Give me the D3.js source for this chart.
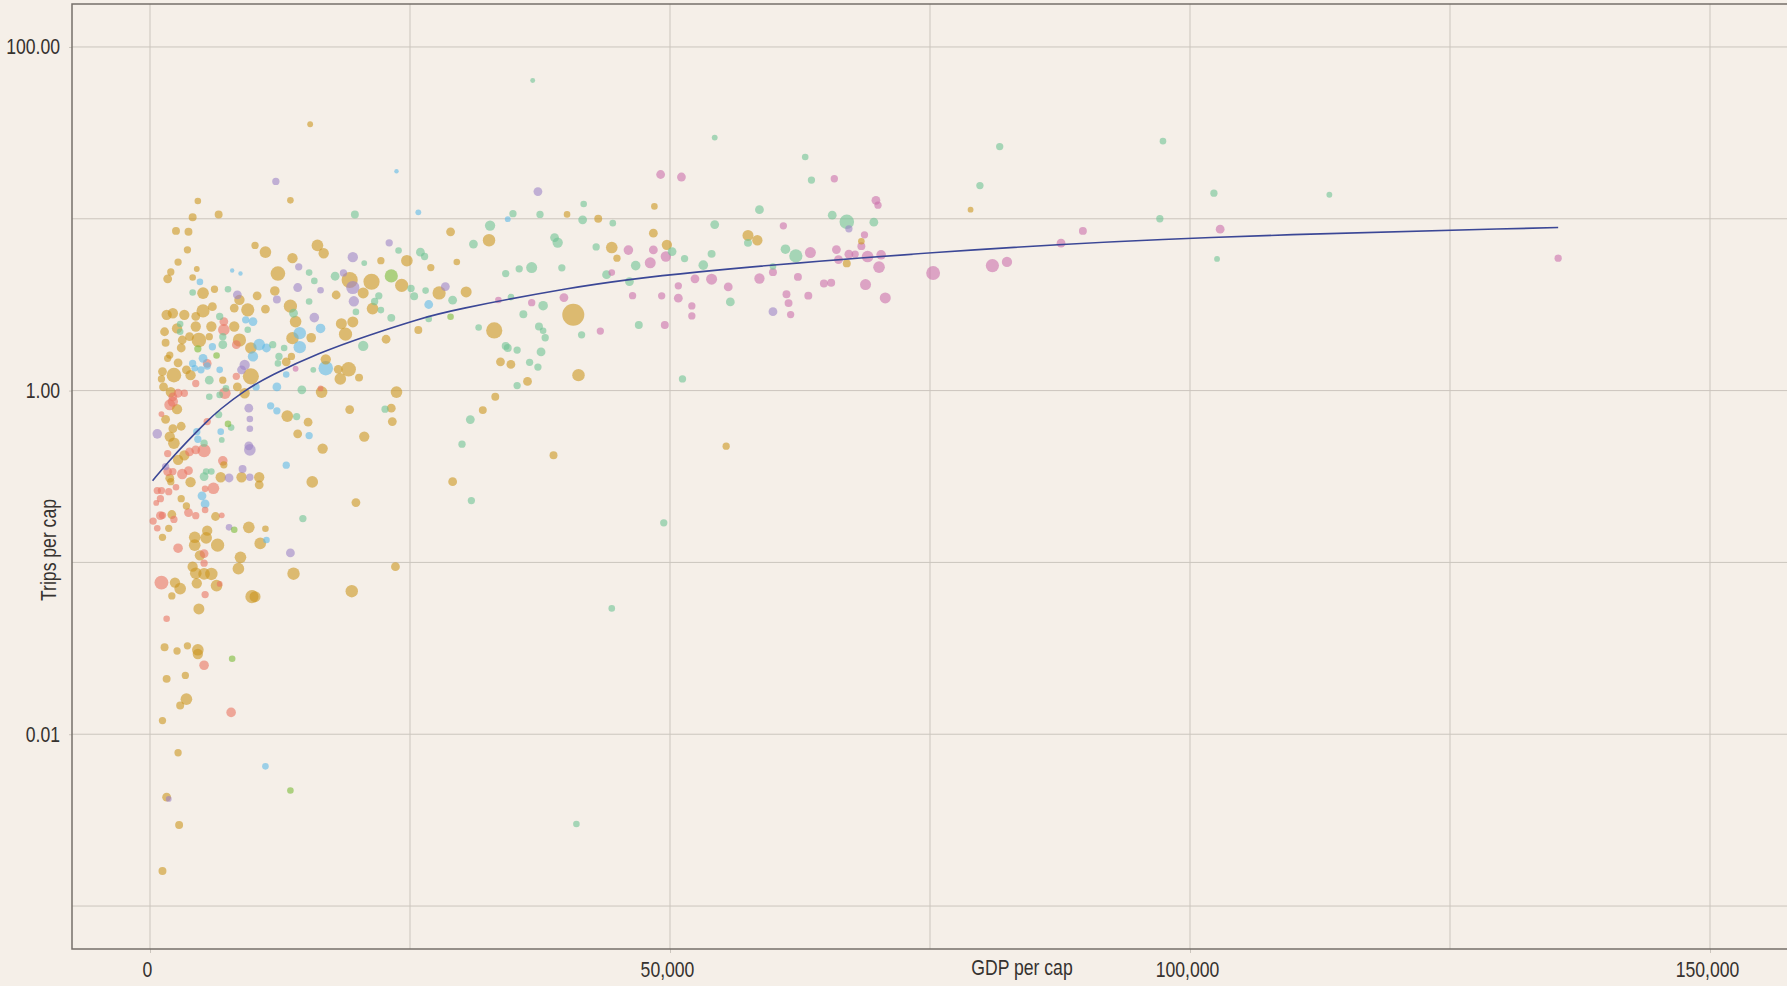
<!DOCTYPE html>
<html>
<head>
<meta charset="utf-8">
<script src="https://d3js.org/d3.v7.min.js"></script>
<style>
body { margin:0; background:#f5efe8; overflow:hidden; }
text { font-family:"Liberation Sans",Arial,sans-serif; fill:#36322f; }
</style>
</head>
<body>
<svg id="svg"></svg>
<script>
// each point: [gdp per cap, trips per cap, size]
var goldPts = [[15400,35.5,7],[13500,12.8,9],[4600,12.7,9],[4100,10.2,13],[6600,10.6,13],[40100,10.6,9],[2500,8.5,13],[3700,8.4,13],[3600,6.6,11],[2700,5.6,11],[2000,4.9,11],[1700,4.47,16],[4500,5.1,7],[4100,4.55,9],[10100,7.0,11],[11100,6.4,28],[16100,7.0,28],[16700,6.3,22],[13700,5.9,22],[12300,4.8,44],[22200,5.7,11],[24700,5.7,28],[19200,4.4,54],[21300,4.3,54],[24200,4.1,36],[27000,5.2,11],[28900,8.4,16],[29500,5.6,9],[32600,7.5,32],[17900,3.6,16],[12000,3.8,19],[13500,3.1,36],[20500,3.7,25],[21400,3.0,28],[27800,3.7,36],[30400,3.75,25],[33100,2.24,54],[33700,1.47,16],[34700,1.42,16],[36300,1.13,16],[33200,0.92,13],[40700,2.76,100],[18400,2.45,25],[19500,2.51,25],[18800,2.13,36],[15500,2.03,19],[13700,2.02,32],[14000,2.52,28],[22700,1.99,16],[25800,2.25,13],[16900,1.52,22],[19100,1.33,44],[18300,1.17,28],[18100,1.33,16],[20100,1.19,13],[16500,0.98,28],[23700,0.98,28],
[48500,11.8,9],[48400,8.25,16],[49700,7.05,22],[57500,8.0,25],[58400,7.5,22],[68400,7.4,9],[67000,5.5,13],[44400,6.8,28],[44900,5.9,11],[43100,10.0,13],[41200,1.23,32],[38800,0.42,13],[32000,0.77,13],[29100,0.295,16],[55400,0.475,11],[78900,11.3,7],
[13200,0.71,28],[15200,0.655,16],[14200,0.56,16],[16600,0.46,22],[19200,0.775,16],[23200,0.79,16],[23300,0.66,16],[20600,0.54,22],[15600,0.294,28],[19800,0.223,16],[10500,0.313,22],[10500,0.283,16],[8800,0.313,22],[6800,0.313,22],[3900,0.293,22],[7100,0.37,11],[2200,0.60,16],[1900,0.54,22],[2300,0.494,28],[2700,0.395,22],[3300,0.42,22],[1900,0.309,16],[2000,0.295,11],[3000,0.235,11],[3500,0.213,11],[6300,0.185,16],[2100,0.19,16],[1800,0.158,11],[1200,0.14,11],[9500,0.16,28],[11100,0.157,9],[10600,0.129,28],[5500,0.153,22],[4300,0.14,28],[5400,0.139,28],[6500,0.126,36],[4300,0.126,28],[4800,0.11,22],[8700,0.107,28],[8500,0.092,28],[13800,0.086,32],[4100,0.0945,22],[4400,0.0865,28],[5200,0.0857,28],[5900,0.0857,32],[4500,0.0756,22],[6400,0.0733,28],[2400,0.0763,22],[2900,0.0704,28],[2100,0.0638,11],[4700,0.0536,25],[9800,0.0632,36],[10100,0.0632,25],[19400,0.068,32],[23600,0.0945,16],[1400,0.0321,13],[2600,0.0305,11],[3600,0.0327,11],[4600,0.031,28],[4600,0.0293,22],[1600,0.021,13],[3400,0.022,11],[3500,0.016,28],[2900,0.0147,13],[1200,0.012,11],[2700,0.0078,11],[1600,0.0043,16],[2800,0.00296,13],[1200,0.0016,13],
[1600,2.76,22],[2200,2.82,22],[3300,2.76,22],[3100,1.97,16],[3000,1.77,16],[1900,1.61,11],[1700,1.54,11],[1200,1.29,16],[2300,1.23,44],[1100,1.17,11],[3500,1.32,16],[3900,1.23,22],[7000,1.15,11],[5100,3.69,28],[5100,2.91,36],[6200,3.89,11],[6000,3.08,16],[4400,2.70,16],[4400,2.36,22],[4700,1.97,44],[3800,2.06,16],[5900,2.36,22],[8100,2.36,22],[8600,3.37,22],[8100,3.02,16],[9400,2.95,36],[10300,3.56,16],[11100,2.98,16],[8600,1.97,36],[5700,2.06,11],[9700,1.77,28],[9700,1.21,54],[8400,1.05,16],[9100,0.965,22],[13100,1.47,16],[13600,1.58,11],
[1400,2.2,16],[2600,2.3,22],[1500,1.9,13],[2700,1.45,16],[1300,1.05,16],[2000,0.98,22],[2600,0.78,22],[1500,0.68,16],[3000,0.62,16]];

var salmonPts = [[16400,1.03,7],[7100,2.52,16],[7100,2.26,28],[8300,1.85,16],[5500,1.44,16],[4400,1.10,11],[8300,1.21,11],[7200,0.965,28],[2700,0.965,16],[3300,0.965,11],[2200,0.92,16],[2200,0.863,22],[1900,0.826,25],
[6100,0.27,28],[3100,0.327,22],[3700,0.342,16],[7000,0.39,19],[5200,0.447,36],[4400,0.452,16],[3800,0.44,16],[1100,0.73,7],[5500,0.66,11],[1700,0.43,11],[1700,0.338,16],[2200,0.338,11],[2500,0.274,9],[700,0.262,11],[1100,0.262,11],[1800,0.258,11],[1000,0.235,11],[600,0.222,7],[3700,0.195,16],[4400,0.187,11],[5300,0.202,9],[5300,0.268,9],[6900,0.188,7],[1000,0.187,16],[1200,0.188,11],[2300,0.178,11],[300,0.174,11],[700,0.158,9],[2700,0.121,19],[5200,0.1125,16],[5200,0.099,11],[6700,0.075,7],[1100,0.0763,40],[5300,0.065,11],[1600,0.047,9],[5200,0.0252,19],[7800,0.0134,19]];

var bluePts = [[23700,18.9,4],[25800,10.9,7],[34400,9.95,7],[4800,4.29,9],[7900,5.0,4],[8700,4.8,4],[26800,3.17,16],[16400,2.30,19],[14400,2.16,32],[14400,1.79,32],[16900,1.35,44],[13100,1.24,9],[12200,1.05,16],[4100,1.44,11],[5100,1.54,16],[4900,1.32,11],[6700,1.32,9],[6000,1.80,11],[9200,2.58,11],[9900,2.52,16],[10500,1.85,28],[11200,1.77,16],[9900,1.58,22],[10200,1.05,11],[11600,0.815,11],[12200,0.762,11],[15300,0.547,11],[6800,0.577,9],[4500,0.577,11],[4600,0.521,11],[13100,0.368,11],[5000,0.244,16],[5300,0.219,16],[11200,0.135,9],[11100,0.0065,9],[5500,1.39,11],[4300,1.35,9]];

var purplePts = [[12100,16.5,11],[37300,14.4,16],[14300,5.25,11],[19500,5.98,22],[23000,7.24,11],[18600,4.84,11],[19500,3.98,36],[14200,3.98,16],[16400,3.84,9],[12200,3.39,13],[19600,3.31,22],[28400,4.03,16],[15800,2.66,19],[8400,3.61,16],[9100,1.41,22],[8800,1.32,16],[9500,0.79,16],[9600,0.684,9],[9600,0.60,9],[9600,0.452,28],[9500,0.477,16],[8900,0.35,13],[9600,0.313,11],[7600,0.31,16],[700,0.56,19],[1500,0.361,11],[7600,0.16,9],[13500,0.1136,16],[1800,0.0042,7],[59900,2.88,16],[67200,8.74,11]];

var greenPts = [[36800,63.8,5],[19700,10.6,13],[34900,10.7,11],[37500,10.6,11],[15300,4.86,9],[15800,4.35,9],[20600,5.52,7],[23900,6.53,9],[17800,4.63,16],[26000,6.39,16],[26400,6.03,11],[31100,7.12,16],[32700,9.13,22],[38900,7.77,16],[39200,7.27,22],[34200,4.8,11],[35500,5.11,11],[36700,5.2,25],[39600,5.18,11],[15300,3.30,9],[21600,3.30,11],[22000,3.56,11],[22200,2.94,9],[19800,2.87,9],[23200,2.65,13],[29100,3.36,16],[26500,3.82,9],[25100,3.93,11],[25400,3.54,13],[26800,2.61,9],[34700,3.50,9],[37800,3.12,19],[35900,2.78,13],[31600,2.33,9],[37400,2.36,13],[37800,2.23,9],[38000,2.03,11],[34200,1.82,13],[34400,1.77,13],[35300,1.72,11],[37600,1.68,16],[36500,1.46,11],[37300,1.37,11],[35300,1.07,11],[13800,2.82,16],[20500,1.82,22],[15700,1.32,7],[14600,1.01,16],[12400,1.58,11],[12300,1.44,9],[12900,1.77,9],[11800,1.85,11],[2900,2.44,9],[2900,2.20,9],[4100,3.72,9],[6700,2.70,11],[7500,3.89,9],[9400,2.26,9],[7000,2.06,11],[7000,1.85,16],[5700,1.15,16],[7300,1.03,9],[6700,0.944,9],[5700,0.92,9],[14100,0.706,11],[6600,0.725,11],[7800,0.609,9],[6900,0.516,7],[5200,0.494,11],[5900,0.338,9],[5400,0.338,9],[5200,0.316,16],[14700,0.18,11],[22600,0.78,11],[30800,0.678,16],[30000,0.488,11],[30900,0.229,11],[49400,0.17,11],[51200,1.17,11],[44400,0.054,9],[41000,0.003,9],
[54300,29.7,7],[63000,22.9,9],[63600,16.8,11],[58600,11.3,16],[65600,10.5,16],[67000,9.6,44],[69600,9.55,16],[54300,9.25,16],[50200,6.44,16],[46700,5.34,19],[51400,5.87,11],[54000,6.25,13],[53200,5.37,19],[57500,7.24,13],[61100,6.65,19],[62100,6.08,36],[59900,5.27,9],[55800,3.28,16],[47000,2.41,13],[46100,4.31,16],[43900,4.73,16],[42900,6.86,11],[44500,9.43,9],[41600,9.86,16],[41700,12.2,9],[41500,2.11,11],[81700,26.3,11],[97400,28.3,9],[79800,15.6,11],[102300,14.1,11],[113400,13.8,7],[97100,10.0,11],[102600,5.84,7]];

var limePts = [[23200,4.65,36],[28900,2.69,9],[7500,0.64,9],[8100,0.155,9],[7900,0.0275,9],[13500,0.0047,9],[4600,1.75,11],[6400,1.6,9]];

var pinkPts = [[33500,3.37,9],[36700,3.25,11],[39800,3.48,16],[14000,1.34,7],[43300,2.22,11],[49100,18.1,16],[51100,17.5,16],[65800,17.1,11],[69800,12.8,16],[70000,12.0,11],[60900,9.1,11],[49600,6.03,22],[48400,6.59,16],[48100,5.54,25],[46000,6.57,19],[63500,6.36,25],[66000,6.62,16],[66200,5.79,16],[67200,6.22,16],[67800,6.22,11],[68700,8.06,11],[68400,6.93,13],[69000,6.03,28],[70300,6.17,19],[70100,5.23,28],[75300,4.83,40],[59900,4.89,13],[58600,4.49,22],[62300,4.59,13],[64800,4.20,13],[65500,4.24,13],[68800,4.14,25],[70700,3.46,25],[63300,3.57,13],[61200,3.64,13],[61400,3.23,13],[61600,2.77,11],[55600,4.01,16],[54000,4.45,25],[52400,4.47,16],[50800,4.07,11],[50800,3.45,16],[52100,3.11,11],[52100,2.72,11],[49200,3.56,11],[49500,2.41,13],[46400,3.57,11],[44400,4.86,9],[89700,8.5,13],[87600,7.21,16],[102900,8.7,16],[81000,5.34,36],[82400,5.61,22],[135400,5.90,11]];

// fitted trend
var trendGdp = [250, 1860, 3460, 5440, 6670, 9070, 11470, 16280, 21090, 25900, 28800, 40300, 49900, 76900, 100000, 135400];
var trendTrips = [0.299, 0.391, 0.498, 0.660, 0.774, 1.00, 1.218, 1.664, 2.11, 2.615, 2.92, 3.98, 4.82, 6.53, 7.87, 8.89];

var xGrid = [0, 25000, 50000, 75000, 100000, 125000, 150000, 175000];
var xLabels = [0, 50000, 100000, 150000];
var yGrid = [0.001, 0.01, 0.1, 1, 10, 100];
var yLabels = [0.01, 1, 100];

var w = 1787, h = 986;
var narrow = 0.8; // squeeze Liberation Sans into a condensed face
var svg = d3.select("#svg").attr("width", w).attr("height", h);

var top_y = 4, bottom_y = 949, left_x = 72;

var x = d3.scaleLinear().domain([-7500, 175000]).range([left_x, 1970]);
var y = d3.scaleLog().domain([Math.pow(10, -3.25), Math.pow(10, 2.25)]).range([bottom_y, top_y]);
var r = d3.scaleSqrt().domain([0, 100]).range([0, 11]);

svg.append("rect")
.attr("width", w)
.attr("height", h)
.attr("fill", "#f5efe8");

//GRID
svg.append("g").selectAll("line").data(xGrid).join("line")
.attr("x1", function(d){ return x(d); })
.attr("x2", function(d){ return x(d); })
.attr("y1", top_y)
.attr("y2", bottom_y)
.attr("stroke", "#cbc5bd")
.attr("stroke-width", 1);

svg.append("g").selectAll("line").data(yGrid).join("line")
.attr("x1", left_x)
.attr("x2", w)
.attr("y1", function(d){ return y(d); })
.attr("y2", function(d){ return y(d); })
.attr("stroke", "#cbc5bd")
.attr("stroke-width", 1);

//AXES
var xAxis = svg.append("g")
.attr("transform", "translate(0," + bottom_y + ")")
.call(d3.axisBottom(x).tickValues(xLabels).tickFormat(d3.format(",")).tickSizeInner(4).tickSizeOuter(0).tickPadding(8));

var yAxis = svg.append("g")
.attr("transform", "translate(" + left_x + ",0)")
.call(d3.axisLeft(y).tickValues(yLabels).tickFormat(d3.format(".2f")).tickSizeInner(3).tickSizeOuter(0).tickPadding(10));

[xAxis, yAxis].forEach(function(a){
  a.select(".domain").remove();
  a.selectAll(".tick line").attr("stroke", "#cbc5bd");
  a.selectAll(".tick text")
  .style("font-size", "22px")
  .attr("font-family", null)
  .attr("fill", "#36322f")
  .attr("transform", "scale(" + narrow + ",1)");
});
yAxis.selectAll(".tick text").attr("x", -12 / narrow);
xAxis.selectAll(".tick text").attr("x", -3 / narrow);

//POINTS
var groups = [
  {pts: goldPts, color: "#cc961f"},
  {pts: salmonPts, color: "#ea7562"},
  {pts: bluePts, color: "#5fb9e6"},
  {pts: purplePts, color: "#9d83c7"},
  {pts: greenPts, color: "#6fc395"},
  {pts: limePts, color: "#7cbb38"},
  {pts: pinkPts, color: "#cb6fab"}
];

var all = [];
groups.forEach(function(g){
  g.pts.forEach(function(p){ all.push({gdp: p[0], trips: p[1], size: p[2], color: g.color}); });
});
all.sort(function(a, b){ return b.size - a.size; });

svg.append("g").selectAll("circle").data(all).join("circle")
.attr("cx", function(d){ return x(d.gdp); })
.attr("cy", function(d){ return y(d.trips); })
.attr("r", function(d){ return r(d.size); })
.attr("fill", function(d){ return d.color; })
.attr("fill-opacity", 0.6);

//TREND
var trend = trendGdp.map(function(g, i){ return [g, trendTrips[i]]; });
svg.append("path")
.datum(trend)
.attr("d", d3.line().x(function(d){ return x(d[0]); }).y(function(d){ return y(d[1]); }).curve(d3.curveBasis))
.attr("fill", "none")
.attr("stroke", "#3b4796")
.attr("stroke-width", 1.6);

//FRAME
svg.append("path")
.attr("d", "M" + w + "," + top_y + "H" + left_x + "V" + bottom_y + "H" + w)
.attr("fill", "none")
.attr("stroke", "#75706a")
.attr("stroke-width", 1.5);

//LABELS
svg.append("text")
.text("GDP per cap")
.attr("transform", "translate(1022,975) scale(" + narrow + ",1)")
.attr("text-anchor", "middle")
.style("font-size", "22px");

svg.append("text")
.text("Trips per cap")
.attr("transform", "translate(48,550) rotate(-90) scale(" + narrow + ",1)")
.attr("text-anchor", "middle")
.attr("dy", "0.35em")
.style("font-size", "22px");
</script>
</body>
</html>
